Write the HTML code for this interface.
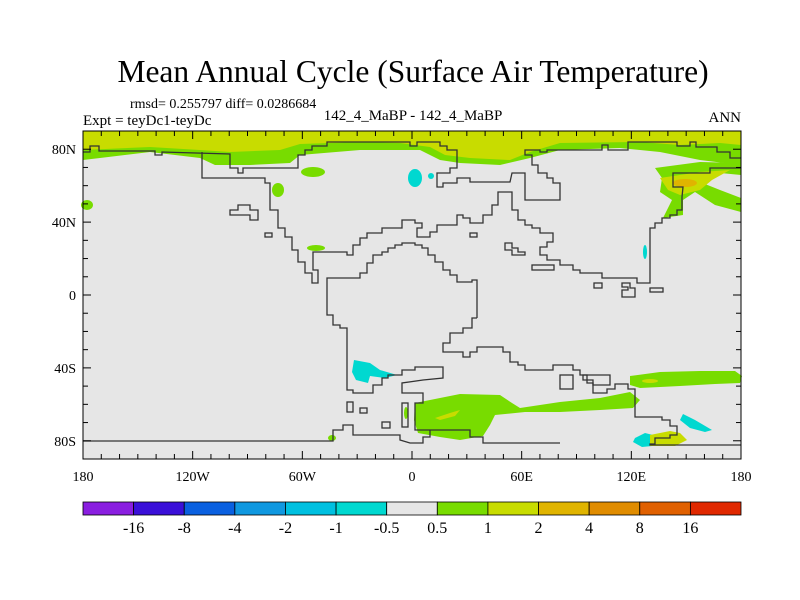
<!DOCTYPE html>
<html><head><meta charset="utf-8"><style>
body{margin:0;background:#fff}
svg{display:block;font-family:"Liberation Serif",serif}
</style></head><body>
<svg id="chart" width="800" height="600" viewBox="0 0 800 600" xmlns="http://www.w3.org/2000/svg">
<rect width="800" height="600" fill="#fff"/>
<text x="413" y="82" text-anchor="middle" font-size="31.5">Mean Annual Cycle (Surface Air Temperature)</text>
<text x="130" y="108" font-size="14">rmsd= 0.255797 diff= 0.0286684</text>
<text x="83" y="125" font-size="15">Expt = teyDc1-teyDc</text>
<text x="413" y="120" text-anchor="middle" font-size="15">142_4_MaBP - 142_4_MaBP</text>
<text x="741" y="122" text-anchor="end" font-size="15">ANN</text>
<g id="plot">
<rect x="83" y="131" width="658" height="328" fill="#e6e6e6"/>
<g>
<path fill="#78dc00" d="M83,131 L741,131 L741,165 L700,160 L660,152 L620,148 L560,150 L530,158 L500,165 L460,163 L440,160 L420,150 L360,150 L300,155 L290,163 L250,165 L215,165 L200,158 L150,152 L100,158 L83,160Z"/>
<path fill="#c8dc00" d="M83,131 L741,131 L741,145 L720,143 L680,145 L640,142 L560,143 L530,152 L510,160 L470,158 L445,155 L430,147 L400,143 L360,142 L300,144 L280,150 L230,152 L200,150 L150,147 L83,150Z"/>
<path fill="#78dc00" d="M655,168 L700,162 L741,163 L741,175 L710,172 L690,178 L720,190 L741,198 L741,212 L715,205 L695,192 L683,200 L683,215 L663,218 L672,200 L660,192 L662,178Z"/>
<path fill="#c8dc00" d="M660,178 L700,172 L730,170 L712,180 L700,190 L680,195 L668,190Z"/>
<ellipse cx="685" cy="183" rx="12" ry="4" fill="#e0b400"/>
<ellipse cx="313" cy="172" rx="12" ry="5" fill="#78dc00"/>
<ellipse cx="278" cy="190" rx="6" ry="7" fill="#78dc00"/>
<ellipse cx="87" cy="205" rx="6" ry="5" fill="#78dc00"/>
<ellipse cx="316" cy="248" rx="9" ry="3" fill="#78dc00"/>
<ellipse cx="415" cy="178" rx="7" ry="9" fill="#00d8d0"/>
<ellipse cx="431" cy="176" rx="3" ry="3" fill="#00d8d0"/>
<ellipse cx="645" cy="252" rx="2" ry="7" fill="#00d8d0"/>
<path fill="#00d8d0" d="M354,360 L370,363 L380,370 L397,375 L385,378 L370,376 L368,383 L356,380 L352,372Z"/>
<path fill="#78dc00" d="M415,403 L440,398 L460,394 L500,395 L512,403 L520,408 L560,402 L600,398 L630,392 L640,400 L633,408 L600,410 L560,412 L525,412 L495,415 L490,425 L483,436 L460,440 L440,437 L418,433 L414,420Z"/>
<path fill="#78dc00" d="M630,376 L660,372 L700,371 L735,371 L742,376 L740,383 L715,384 L680,386 L640,388 L630,385Z"/>
<path fill="#c8dc00" d="M435,418 L450,413 L460,410 L455,416 L440,420Z"/>
<ellipse cx="650" cy="381" rx="8" ry="2" fill="#c8dc00"/>
<path fill="#00d8d0" d="M683,414 L695,420 L712,430 L705,432 L690,428 L680,420Z"/>
<path fill="#00d8d0" d="M635,438 L645,433 L653,435 L652,446 L642,447 L633,442Z"/>
<path fill="#c8dc00" d="M650,435 L670,431 L680,433 L687,440 L675,446 L650,446Z"/>
<ellipse cx="332" cy="438" rx="4" ry="3" fill="#78dc00"/>
<ellipse cx="406" cy="413" rx="2" ry="6" fill="#78dc00"/>
</g>
<g fill="none" stroke="#333" stroke-width="1.3">
<polyline points="83,152 90,152 90,146 99,146 99,151 155,151 155,155 162,155 162,152 230,154 230,168 238,168 238,173 243,173 243,168 298,168 298,155 305,155 305,150 312,150 312,146 327,146 327,142 410,142 410,146 417,146 417,142 440,142 440,146 447,146 447,150 457,150 457,168 450,168 450,173 437,173 437,187 443,187 443,183 457,183 457,178 470,178 470,182 510,182 512,173 525,173 525,200 560,200 560,183 553,183 553,178 547,178 547,173 538,173 538,165 532,165 532,155 525,155 525,150 540,150 540,152 547,152 547,150 602,150 602,145 608,145 608,150 628,150 628,142 677,142 677,146 690,146 690,142 696,142 696,147 717,147 717,152 730,152 730,158 741,158"/>
<polyline points="202,152 202,178 265,178 265,183 270,183 270,210 278,210 278,228 285,228 285,237 292,237 292,250 298,250 298,262 305,262 305,273 312,273 312,283 318,283 318,270 313,270 313,252 347,252 347,255 353,255 353,245 360,245 360,238 367,238 367,233 382,233 382,228 402,228 402,220 415,220 415,223 422,223 422,228 417,228 417,237 430,237 430,232 437,232 437,225 457,225 457,215 463,215 463,218 470,218 470,223 483,223 483,215 492,215 492,205 498,205 498,192 512,192 512,210 518,210 518,220 525,220 525,225 532,225 532,228 540,228 540,233 553,233 553,242 547,242 547,247 540,247 540,255 547,255 547,260 560,260 560,265 573,265 573,270 580,270 580,273 602,273 602,278 637,278 637,283 650,283 650,228 655,228 655,223 662,223 662,218 670,218 670,215 677,215 677,210 682,210 682,197 683,187 673,187 673,173 710,173 710,168 741,168"/>
<polyline points="477,318 477,280 472,280 472,282 457,282 457,275 450,275 450,270 443,270 443,262 435,262 435,255 428,255 428,248 422,248 422,245 415,245 415,243 402,243 402,245 395,245 395,248 388,248 388,252 382,252 382,255 373,255 373,263 367,263 367,273 360,273 360,278 327,278 327,315 333,315 333,325 340,325 340,328 347,328 347,390 353,390 353,393 373,393 373,385 382,385 382,378 388,378 388,375 402,375 402,370 415,370 415,367 443,367 443,378 423,380 402,383 402,393 423,393 423,403 415,403 415,430 470,430 470,437 483,437 483,443 560,443"/>
<polyline points="477,318 472,318 472,328 463,328 463,333 450,333 450,343 443,343 443,352 463,352 463,357 470,357 470,352 477,352 477,347 503,347 503,352 510,352 510,362 518,362 518,365 525,365 525,370 553,370 553,365 573,365 573,370 580,370 580,375 587,375 587,383 593,383 593,393 607,393 607,389 615,389 615,384 628,384 628,389 635,389 635,417 662,417 662,420 670,420 670,426 677,426 677,435 670,435 670,438 655,438 655,444 650,444 650,445 741,445"/>
<polyline points="83,441 333,441 333,430 343,430 343,425 353,425 353,435 400,435 400,440 410,443 423,443 423,437 430,437 430,430"/>
<polygon points="230,210 238,210 238,205 250,205 250,210 258,210 258,220 250,220 250,215 230,215"/>
<rect x="265" y="233" width="7" height="4"/>
<rect x="470" y="233" width="7" height="4"/>
<polygon points="505,243 512,243 512,248 518,248 518,252 525,252 525,255 512,255 512,250 505,250"/>
<rect x="532" y="265" width="22" height="5"/>
<rect x="594" y="283" width="8" height="5"/>
<polygon points="622,283 630,283 630,288 635,288 635,297 622,297 622,290 628,290 628,287 622,287"/>
<rect x="650" y="288" width="13" height="4"/>
<rect x="347" y="402" width="6" height="10"/>
<rect x="360" y="408" width="7" height="5"/>
<rect x="382" y="422" width="8" height="6"/>
<rect x="402" y="403" width="6" height="24"/>
<polygon points="583,375 610,375 610,385 593,385 593,380 583,380"/>
<rect x="560" y="375" width="13" height="14"/>
</g>
<rect x="83" y="131" width="658" height="328" fill="none" stroke="#000" stroke-width="1"/>
<g id="ticks" stroke="#000" stroke-width="1"></g>
<g id="labels" font-size="14"></g>
</g>
<g id="colorbar"></g>
</svg>
<script>
const lonTicks = [-180,-120,-60,0,60,120,180];
const lonLabels = ["180","120W","60W","0","60E","120E","180"];
const latTicks = [80,40,0,-40,-80];
const latLabels = ["80N","40N","0","40S","80S"];
const levelLabels = ["-16","-8","-4","-2","-1","-0.5","0.5","1","2","4","8","16"];
const levelColors = ["#8a1ee0","#3a10d8","#0a60e0","#1098e0","#00c0e0","#00d8d0","#e6e6e6","#78dc00","#c8dc00","#e0b400","#e08c00","#e06000","#e02800"];
const NS="http://www.w3.org/2000/svg";
const X0=83,X1=741,Y0=131,Y1=459;
const xLon=l=>X0+(l+180)/360*(X1-X0);
const yLat=l=>Y0+(90-l)/180*(Y1-Y0);
const ticks=document.getElementById('ticks'), labels=document.getElementById('labels'), cb=document.getElementById('colorbar');
function line(x1,y1,x2,y2){const e=document.createElementNS(NS,'line');e.setAttribute('x1',x1);e.setAttribute('y1',y1);e.setAttribute('x2',x2);e.setAttribute('y2',y2);


ticks.appendChild(e);}
for(let l=-170;l<180;l+=10){const x=xLon(l);const len=(l%60===0)?8:5;line(x,Y0,x,Y0+len);line(x,Y1,x,Y1-len);}
for(let l=-80;l<=80;l+=10){const y=yLat(l);const len=(l%40===0)?8:5;line(X0,y,X0+len,y);line(X1,y,X1-len,y);}
function txt(parent,x,y,s,anchor,name){const t=document.createElementNS(NS,'text');t.setAttribute('x',x);t.setAttribute('y',y);t.setAttribute('text-anchor',anchor);t.textContent=s;


parent.appendChild(t);return t;}
lonTicks.forEach((l,i)=>txt(labels,xLon(l),481,lonLabels[i],'middle','x-tick-label'));
latTicks.forEach((l,i)=>txt(labels,76,yLat(l)+5,latLabels[i],'end','y-tick-label'));
const bw=(X1-X0)/levelColors.length;
levelColors.forEach((c,i)=>{const r=document.createElementNS(NS,'rect');r.setAttribute('x',X0+i*bw);r.setAttribute('y',502);r.setAttribute('width',bw);r.setAttribute('height',13);r.setAttribute('fill',c);r.setAttribute('stroke','#000');r.setAttribute('stroke-width','0.8');


cb.appendChild(r);});
levelLabels.forEach((s,i)=>{const t=txt(cb,X0+(i+1)*bw,533,s,'middle','colorbar-label');t.setAttribute('font-size','16');});
</script>
</body></html>
